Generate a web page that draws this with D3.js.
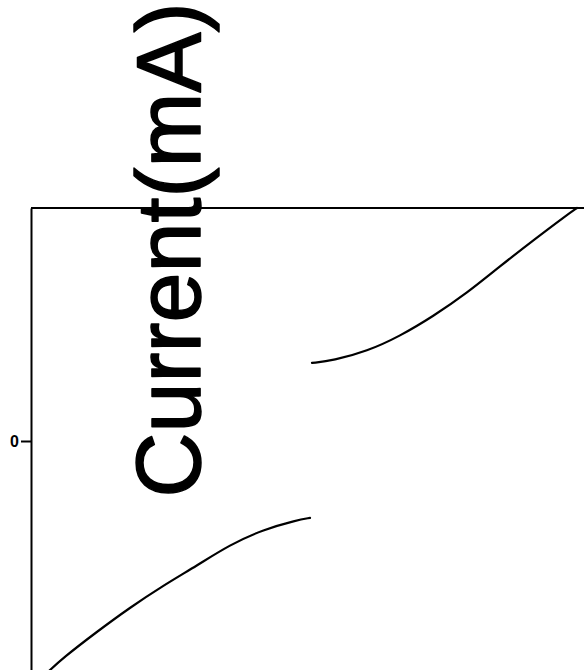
<!DOCTYPE html>
<html>
<head>
<meta charset="utf-8">
<script src="https://cdn.jsdelivr.net/npm/d3@7"></script>
<style>
  html, body { margin: 0; padding: 0; background: #fff; }
  svg { display: block; }
</style>
</head>
<body>
<script>
// Forward sweep branch (positive bias) — voltage (V) and current (mA)
const forwardVoltage = [0, 0.075, 0.196, 0.313, 0.431, 0.552, 0.669, 0.786, 0.907, 0.943];
const forwardCurrent = [0.67, 0.69, 0.77, 0.90, 1.07, 1.27, 1.50, 1.72, 1.94, 2.00];

// Reverse sweep branch (negative bias)
const reverseVoltage = [-0.943, -0.885, -0.767, -0.648, -0.529, -0.410, -0.292, -0.173, -0.054, -0.007];
const reverseCurrent = [-1.99, -1.86, -1.64, -1.43, -1.24, -1.07, -0.89, -0.76, -0.68, -0.66];

// Axis settings
const yTicks = [0];
const yTickLabels = ["0"];
const yTitle = "Current(mA)";

const width = 584, height = 670;
const plot = { left: 31, right: 593, top: 208, bottom: 674 };

const svg = d3.select("body").append("svg")
  .attr("width", width)
  .attr("height", height);

const x = d3.scaleLinear().domain([-1, 1]).range([plot.left, plot.right]);
const y = d3.scaleLinear().domain([-2, 2]).range([plot.bottom, plot.top]);

// Frame: top border
svg.append("line")
  .attr("x1", plot.left).attr("x2", plot.right)
  .attr("y1", plot.top).attr("y2", plot.top)
  .attr("stroke", "#000").attr("stroke-width", 2);

// Left axis with the single zero tick
const yAxis = d3.axisLeft(y)
  .tickValues(yTicks)
  .tickFormat((d, i) => yTickLabels[i])
  .tickSize(10)
  .tickSizeOuter(0)
  .tickPadding(2);

const gy = svg.append("g")
  .attr("transform", `translate(${plot.left},0)`)
  .call(yAxis);
gy.select(".domain").attr("stroke", "#000").attr("stroke-width", 2);
gy.selectAll(".tick line").attr("stroke", "#000").attr("stroke-width", 2);
gy.selectAll(".tick text")
  .attr("font-family", "'Liberation Sans', Arial, sans-serif")
  .attr("font-size", 16)
  .attr("font-weight", "bold")
  .attr("fill", "#000");

// Y-axis title (slightly heavier strokes via outline)
svg.append("text")
  .attr("transform", "translate(200,250) rotate(-90)")
  .attr("text-anchor", "middle")
  .attr("font-family", "'Liberation Sans', Arial, sans-serif")
  .attr("font-size", 90)
  .attr("fill", "#000")
  .attr("stroke", "#000")
  .attr("stroke-width", 1.5)
  .attr("stroke-linejoin", "round")
  .text(yTitle);

// I–V branches
const line = d3.line()
  .x(d => x(d[0]))
  .y(d => y(d[1]))
  .curve(d3.curveBasis);

const branches = [
  d3.zip(reverseVoltage, reverseCurrent),
  d3.zip(forwardVoltage, forwardCurrent)
];

svg.selectAll("path.branch")
  .data(branches)
  .join("path")
  .attr("class", "branch")
  .attr("d", line)
  .attr("fill", "none")
  .attr("stroke", "#000")
  .attr("stroke-width", 2.2)
  .attr("stroke-linecap", "round");
</script>
</body>
</html>
